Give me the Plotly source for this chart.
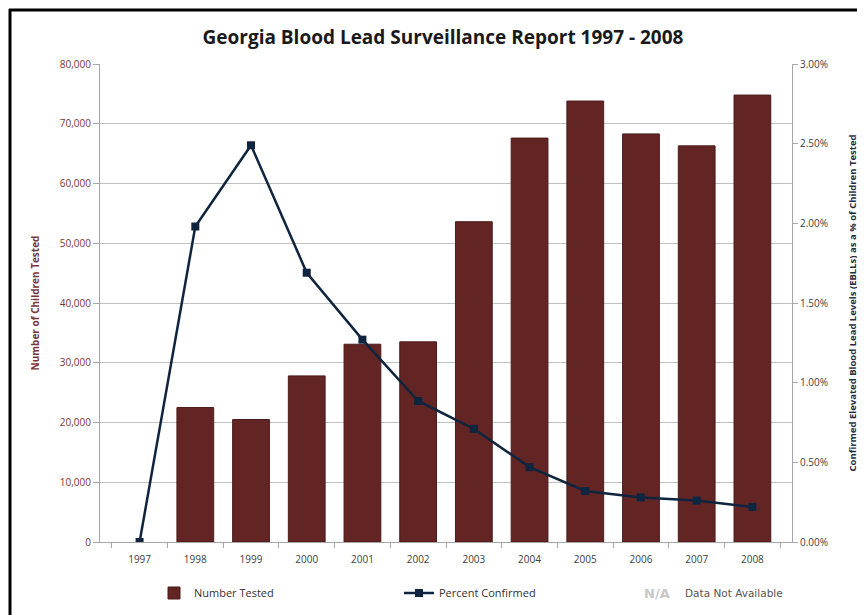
import plotly.graph_objects as go

years = ["1997", "1998", "1999", "2000", "2001", "2002", "2003", "2004", "2005", "2006", "2007", "2008"]
number_tested = [None, 22500, 20500, 27800, 33100, 33500, 53600, 67600, 73800, 68300, 66300, 74800]
percent_confirmed = [0.0, 0.0198, 0.0249, 0.0169, 0.0127, 0.00885, 0.0071, 0.0047, 0.0032, 0.0028, 0.0026, 0.0022]

# the page body adds an 8px offset; work in screen coordinates
OFF = 8
W, H = 865 - OFF, 615 - OFF
PL, PR, PT, PB = 100, 792, 64, 542  # plot area in screen px
L, T = PL - OFF, PT - OFF
R, B = W - (PR - OFF), H - (PB - OFF)
pw, ph = PR - PL, PB - PT

def px(x):
    return (x - PL) / pw

def py(y):
    return (PB - y) / ph

font = "Open Sans, Liberation Sans, sans-serif"

fig = go.Figure()
fig.add_trace(go.Bar(
    x=years, y=number_tested, name="Number Tested",
    marker=dict(color="#632523", line=dict(color="#4a1b1a", width=1)),
    yaxis="y",
))
fig.add_trace(go.Scatter(
    x=years, y=percent_confirmed, name="Percent Confirmed",
    mode="lines+markers",
    line=dict(color="#0f243e", width=2.5),
    marker=dict(symbol="square", size=8, color="#0f243e"),
    yaxis="y2",
))

fig.update_layout(
    width=W, height=H,
    margin=dict(l=L, r=R, t=T, b=B, autoexpand=False),
    paper_bgcolor="white", plot_bgcolor="white",
    bargap=0.34,
    title=dict(text="<b>Georgia Blood Lead Surveillance Report 1997 - 2008</b>",
               x=px(443), xref="paper", xanchor="center", y=1 - (37 - OFF) / H, yanchor="middle",
               font=dict(family=font, size=19, color="#1a1a1a")),
    xaxis=dict(type="category", showline=True, linecolor="#a6a6a6", linewidth=1,
               ticks="outside", tickson="boundaries", ticklen=5, tickcolor="#a6a6a6",
               ticklabelstandoff=8,
               tickfont=dict(family=font, size=10, color="#404040"), showgrid=False),
    yaxis=dict(range=[0, 80000], dtick=10000, tickformat=",d",
               showgrid=True, gridcolor="#c0c0c0", gridwidth=1,
               showline=True, linecolor="#a6a6a6", ticks="outside", ticklen=6, tickcolor="#a6a6a6",
               tickfont=dict(family=font, size=10, color="#7a3535"),
               title=dict(text="<b>Number of Children Tested</b>", standoff=18,
                          font=dict(family=font, size=10, color="#7a3535")),
               zeroline=False),
    yaxis2=dict(range=[0, 0.03], dtick=0.005, tickformat=".2%", overlaying="y", side="right",
                showgrid=False, showline=True, linecolor="#a6a6a6", ticks="outside", ticklen=5,
                tickcolor="#a6a6a6",
                tickfont=dict(family=font, size=10, color="#404040"),
                title=dict(text="<b>Confirmed Elevated Blood Lead Levels (EBLLs) as a % of Children Tested</b>",
                           standoff=22, font=dict(family=font, size=9.5, color="#1f2d44")),
                zeroline=False),
    legend=dict(orientation="h", x=px(154), xanchor="left", y=py(593), yanchor="middle",
                entrywidth=200, entrywidthmode="pixels",
                font=dict(family=font, size=11, color="#333333"), bgcolor="rgba(0,0,0,0)"),
    showlegend=True,
)

fig.add_annotation(x=px(657), y=py(593), xref="paper", yref="paper", showarrow=False,
                   text="<b>N/A</b>", font=dict(family="DejaVu Sans, sans-serif", size=13, color="#c8c8c8"),
                   xanchor="center", yanchor="middle")
fig.add_annotation(x=px(683), y=py(593), xref="paper", yref="paper", showarrow=False,
                   text="Data Not Available", font=dict(family="DejaVu Sans, sans-serif", size=10.5, color="#555555"),
                   xanchor="left", yanchor="middle")

# frame lines (left and top)
fig.add_shape(type="line", xref="paper", yref="paper", x0=px(9), x1=px(880), y0=py(10), y1=py(10),
              line=dict(color="black", width=3))
fig.add_shape(type="line", xref="paper", yref="paper", x0=px(10), x1=px(10), y0=py(9), y1=py(640),
              line=dict(color="black", width=3))

fig.write_html("out.html")
